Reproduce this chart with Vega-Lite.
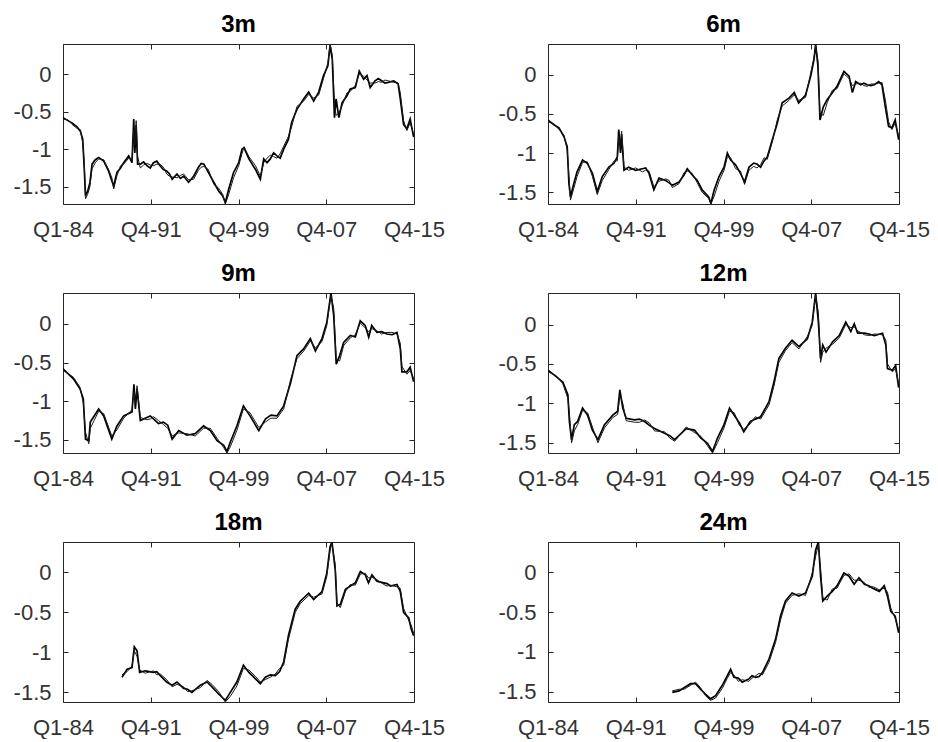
{
  "$schema": "https://vega.github.io/schema/vega-lite/v6.json",
  "padding": {"left": 12, "top": 12, "right": 2, "bottom": 0},
  "background": "white",
  "datasets": {
    "d": [
      {"p":"3m","t":1983.75,"a":-0.58,"b":-0.60},{"p":"3m","t":1984.2,"a":-0.62,"b":-0.61},{"p":"3m","t":1984.57,"a":-0.65,"b":-0.67},{"p":"3m","t":1985.0,"a":-0.70,"b":-0.72},{"p":"3m","t":1985.33,"a":-0.76,"b":-0.74},{"p":"3m","t":1985.55,"a":-0.87,"b":-0.92},{"p":"3m","t":1985.7,"a":-1.30,"b":-1.20},{"p":"3m","t":1985.8,"a":-1.62,"b":-1.66},{"p":"3m","t":1986.0,"a":-1.56,"b":-1.60},{"p":"3m","t":1986.2,"a":-1.45,"b":-1.50},{"p":"3m","t":1986.4,"a":-1.20,"b":-1.26},{"p":"3m","t":1986.7,"a":-1.14,"b":-1.18},{"p":"3m","t":1987.0,"a":-1.11,"b":-1.13},{"p":"3m","t":1987.46,"a":-1.16,"b":-1.14},{"p":"3m","t":1987.9,"a":-1.29,"b":-1.27},{"p":"3m","t":1988.2,"a":-1.42,"b":-1.38},{"p":"3m","t":1988.37,"a":-1.49,"b":-1.53},{"p":"3m","t":1988.67,"a":-1.31,"b":-1.35},{"p":"3m","t":1989.0,"a":-1.25,"b":-1.22},{"p":"3m","t":1989.28,"a":-1.18,"b":-1.20},{"p":"3m","t":1989.74,"a":-1.09,"b":-1.12},{"p":"3m","t":1990.04,"a":-1.18,"b":-1.14},{"p":"3m","t":1990.2,"a":-0.60,"b":-0.75},{"p":"3m","t":1990.3,"a":-1.05,"b":-0.95},{"p":"3m","t":1990.42,"a":-0.68,"b":-0.62},{"p":"3m","t":1990.55,"a":-1.20,"b":-1.10},{"p":"3m","t":1990.8,"a":-1.20,"b":-1.25},{"p":"3m","t":1991.1,"a":-1.17,"b":-1.21},{"p":"3m","t":1991.4,"a":-1.22,"b":-1.19},{"p":"3m","t":1992.0,"a":-1.18,"b":-1.22},{"p":"3m","t":1992.6,"a":-1.22,"b":-1.20},{"p":"3m","t":1993.2,"a":-1.29,"b":-1.33},{"p":"3m","t":1993.7,"a":-1.40,"b":-1.37},{"p":"3m","t":1994.14,"a":-1.33,"b":-1.38},{"p":"3m","t":1994.75,"a":-1.36,"b":-1.33},{"p":"3m","t":1995.2,"a":-1.44,"b":-1.41},{"p":"3m","t":1995.66,"a":-1.36,"b":-1.40},{"p":"3m","t":1996.1,"a":-1.24,"b":-1.28},{"p":"3m","t":1996.6,"a":-1.20,"b":-1.23},{"p":"3m","t":1997.0,"a":-1.31,"b":-1.27},{"p":"3m","t":1997.5,"a":-1.44,"b":-1.47},{"p":"3m","t":1997.95,"a":-1.56,"b":-1.52},{"p":"3m","t":1998.3,"a":-1.62,"b":-1.60},{"p":"3m","t":1998.55,"a":-1.71,"b":-1.73},{"p":"3m","t":1998.86,"a":-1.53,"b":-1.60},{"p":"3m","t":1999.3,"a":-1.31,"b":-1.38},{"p":"3m","t":1999.77,"a":-1.18,"b":-1.22},{"p":"3m","t":2000.07,"a":-1.00,"b":-1.06},{"p":"3m","t":2000.25,"a":-0.98,"b":-0.97},{"p":"3m","t":2000.7,"a":-1.13,"b":-1.10},{"p":"3m","t":2001.3,"a":-1.27,"b":-1.22},{"p":"3m","t":2001.74,"a":-1.40,"b":-1.36},{"p":"3m","t":2002.05,"a":-1.13,"b":-1.18},{"p":"3m","t":2002.65,"a":-1.13,"b":-1.08},{"p":"3m","t":2003.26,"a":-1.09,"b":-1.12},{"p":"3m","t":2003.87,"a":-1.00,"b":-0.96},{"p":"3m","t":2004.3,"a":-0.87,"b":-0.83},{"p":"3m","t":2004.6,"a":-0.64,"b":-0.70},{"p":"3m","t":2005.08,"a":-0.47,"b":-0.43},{"p":"3m","t":2005.7,"a":-0.33,"b":-0.36},{"p":"3m","t":2006.15,"a":-0.24,"b":-0.27},{"p":"3m","t":2006.6,"a":-0.36,"b":-0.32},{"p":"3m","t":2007.06,"a":-0.24,"b":-0.28},{"p":"3m","t":2007.5,"a":-0.02,"b":-0.06},{"p":"3m","t":2007.9,"a":0.11,"b":0.15},{"p":"3m","t":2008.1,"a":0.38,"b":0.40},{"p":"3m","t":2008.3,"a":0.20,"b":0.25},{"p":"3m","t":2008.5,"a":-0.58,"b":-0.40},{"p":"3m","t":2008.65,"a":-0.33,"b":-0.55},{"p":"3m","t":2008.9,"a":-0.58,"b":-0.52},{"p":"3m","t":2009.2,"a":-0.38,"b":-0.42},{"p":"3m","t":2009.64,"a":-0.29,"b":-0.25},{"p":"3m","t":2009.94,"a":-0.20,"b":-0.23},{"p":"3m","t":2010.4,"a":-0.18,"b":-0.15},{"p":"3m","t":2010.76,"a":0.04,"b":0.00},{"p":"3m","t":2011.16,"a":-0.07,"b":-0.03},{"p":"3m","t":2011.46,"a":-0.02,"b":-0.08},{"p":"3m","t":2011.76,"a":-0.18,"b":-0.12},{"p":"3m","t":2012.2,"a":-0.09,"b":-0.12},{"p":"3m","t":2012.8,"a":-0.09,"b":-0.11},{"p":"3m","t":2013.4,"a":-0.11,"b":-0.09},{"p":"3m","t":2013.9,"a":-0.09,"b":-0.11},{"p":"3m","t":2014.3,"a":-0.13,"b":-0.12},{"p":"3m","t":2014.5,"a":-0.33,"b":-0.25},{"p":"3m","t":2014.8,"a":-0.67,"b":-0.62},{"p":"3m","t":2015.1,"a":-0.73,"b":-0.75},{"p":"3m","t":2015.4,"a":-0.60,"b":-0.65},{"p":"3m","t":2015.72,"a":-0.84,"b":-0.80},
      {"p":"3m","t":1991.7,"a":-1.25,"b":-1.21},{"p":"3m","t":1992.3,"a":-1.16,"b":-1.20},{"p":"3m","t":1992.9,"a":-1.27,"b":-1.24},{"p":"3m","t":1993.45,"a":-1.33,"b":-1.36},{"p":"3m","t":2002.35,"a":-1.18,"b":-1.12},{"p":"3m","t":2002.95,"a":-1.05,"b":-1.10},{"p":"3m","t":2003.55,"a":-1.12,"b":-1.06},{"p":"3m","t":2012.5,"a":-0.06,"b":-0.10},{"p":"3m","t":2013.1,"a":-0.12,"b":-0.08},{"p":"3m","t":1994.45,"a":-1.39,"b":-1.35},{"p":"3m","t":1996.35,"a":-1.19,"b":-1.24},

      {"p":"6m","t":1983.75,"a":-0.58,"b":-0.60},{"p":"6m","t":1984.3,"a":-0.64,"b":-0.63},{"p":"6m","t":1984.75,"a":-0.68,"b":-0.70},{"p":"6m","t":1985.2,"a":-0.79,"b":-0.77},{"p":"6m","t":1985.5,"a":-0.92,"b":-0.96},{"p":"6m","t":1985.66,"a":-1.39,"b":-1.30},{"p":"6m","t":1985.8,"a":-1.56,"b":-1.60},{"p":"6m","t":1986.1,"a":-1.39,"b":-1.45},{"p":"6m","t":1986.4,"a":-1.24,"b":-1.30},{"p":"6m","t":1986.9,"a":-1.09,"b":-1.12},{"p":"6m","t":1987.33,"a":-1.13,"b":-1.11},{"p":"6m","t":1987.8,"a":-1.26,"b":-1.30},{"p":"6m","t":1988.24,"a":-1.49,"b":-1.53},{"p":"6m","t":1988.7,"a":-1.30,"b":-1.35},{"p":"6m","t":1989.3,"a":-1.18,"b":-1.21},{"p":"6m","t":1989.77,"a":-1.13,"b":-1.10},{"p":"6m","t":1990.07,"a":-1.05,"b":-1.10},{"p":"6m","t":1990.2,"a":-0.70,"b":-0.78},{"p":"6m","t":1990.36,"a":-1.00,"b":-0.92},{"p":"6m","t":1990.46,"a":-0.76,"b":-0.72},{"p":"6m","t":1990.68,"a":-1.22,"b":-1.18},{"p":"6m","t":1991.1,"a":-1.18,"b":-1.22},{"p":"6m","t":1991.74,"a":-1.22,"b":-1.19},{"p":"6m","t":1992.35,"a":-1.20,"b":-1.24},{"p":"6m","t":1992.96,"a":-1.26,"b":-1.23},{"p":"6m","t":1993.4,"a":-1.47,"b":-1.43},{"p":"6m","t":1993.87,"a":-1.32,"b":-1.36},{"p":"6m","t":1994.47,"a":-1.35,"b":-1.33},{"p":"6m","t":1995.08,"a":-1.41,"b":-1.44},{"p":"6m","t":1995.7,"a":-1.37,"b":-1.39},{"p":"6m","t":1996.15,"a":-1.28,"b":-1.25},{"p":"6m","t":1996.45,"a":-1.20,"b":-1.23},{"p":"6m","t":1996.9,"a":-1.28,"b":-1.26},{"p":"6m","t":1997.36,"a":-1.35,"b":-1.38},{"p":"6m","t":1997.8,"a":-1.47,"b":-1.50},{"p":"6m","t":1998.4,"a":-1.56,"b":-1.58},{"p":"6m","t":1998.6,"a":-1.64,"b":-1.65},{"p":"6m","t":1998.9,"a":-1.47,"b":-1.55},{"p":"6m","t":1999.34,"a":-1.30,"b":-1.36},{"p":"6m","t":1999.8,"a":-1.18,"b":-1.22},{"p":"6m","t":2000.1,"a":-1.00,"b":-1.05},{"p":"6m","t":2000.4,"a":-1.09,"b":-1.06},{"p":"6m","t":2000.85,"a":-1.15,"b":-1.20},{"p":"6m","t":2001.3,"a":-1.26,"b":-1.23},{"p":"6m","t":2001.67,"a":-1.37,"b":-1.40},{"p":"6m","t":2002.07,"a":-1.18,"b":-1.22},{"p":"6m","t":2002.5,"a":-1.13,"b":-1.17},{"p":"6m","t":2003.13,"a":-1.18,"b":-1.15},{"p":"6m","t":2003.74,"a":-1.05,"b":-1.08},{"p":"6m","t":2004.2,"a":-0.83,"b":-0.86},{"p":"6m","t":2004.65,"a":-0.62,"b":-0.58},{"p":"6m","t":2005.1,"a":-0.36,"b":-0.40},{"p":"6m","t":2005.72,"a":-0.30,"b":-0.33},{"p":"6m","t":2006.2,"a":-0.23,"b":-0.26},{"p":"6m","t":2006.6,"a":-0.36,"b":-0.33},{"p":"6m","t":2007.23,"a":-0.26,"b":-0.29},{"p":"6m","t":2007.7,"a":-0.02,"b":0.02},{"p":"6m","t":2008.0,"a":0.19,"b":0.22},{"p":"6m","t":2008.15,"a":0.39,"b":0.36},{"p":"6m","t":2008.36,"a":0.11,"b":0.18},{"p":"6m","t":2008.55,"a":-0.58,"b":-0.50},{"p":"6m","t":2008.85,"a":-0.41,"b":-0.52},{"p":"6m","t":2009.2,"a":-0.32,"b":-0.36},{"p":"6m","t":2009.67,"a":-0.23,"b":-0.20},{"p":"6m","t":2010.1,"a":-0.15,"b":-0.18},{"p":"6m","t":2010.73,"a":0.04,"b":0.01},{"p":"6m","t":2011.2,"a":-0.02,"b":-0.05},{"p":"6m","t":2011.5,"a":-0.23,"b":-0.14},{"p":"6m","t":2011.8,"a":-0.09,"b":-0.12},{"p":"6m","t":2012.25,"a":-0.13,"b":-0.11},{"p":"6m","t":2012.86,"a":-0.13,"b":-0.15},{"p":"6m","t":2013.5,"a":-0.13,"b":-0.12},{"p":"6m","t":2013.9,"a":-0.09,"b":-0.11},{"p":"6m","t":2014.2,"a":-0.13,"b":-0.10},{"p":"6m","t":2014.5,"a":-0.41,"b":-0.32},{"p":"6m","t":2014.8,"a":-0.66,"b":-0.60},{"p":"6m","t":2015.1,"a":-0.68,"b":-0.70},{"p":"6m","t":2015.4,"a":-0.58,"b":-0.62},{"p":"6m","t":2015.72,"a":-0.83,"b":-0.78},
      {"p":"6m","t":1992.65,"a":-1.19,"b":-1.22},{"p":"6m","t":1994.8,"a":-1.38,"b":-1.35},{"p":"6m","t":2002.8,"a":-1.14,"b":-1.19},{"p":"6m","t":2003.45,"a":-1.10,"b":-1.06},{"p":"6m","t":2012.55,"a":-0.11,"b":-0.14},{"p":"6m","t":2013.2,"a":-0.14,"b":-0.12},

      {"p":"9m","t":1983.75,"a":-0.58,"b":-0.60},{"p":"9m","t":1984.7,"a":-0.71,"b":-0.69},{"p":"9m","t":1985.3,"a":-0.84,"b":-0.82},{"p":"9m","t":1985.6,"a":-0.97,"b":-1.02},{"p":"9m","t":1985.8,"a":-1.49,"b":-1.40},{"p":"9m","t":1986.1,"a":-1.51,"b":-1.55},{"p":"9m","t":1986.24,"a":-1.27,"b":-1.35},{"p":"9m","t":1987.0,"a":-1.10,"b":-1.13},{"p":"9m","t":1987.46,"a":-1.19,"b":-1.16},{"p":"9m","t":1988.2,"a":-1.49,"b":-1.45},{"p":"9m","t":1988.67,"a":-1.32,"b":-1.37},{"p":"9m","t":1989.28,"a":-1.19,"b":-1.22},{"p":"9m","t":1990.04,"a":-1.14,"b":-1.11},{"p":"9m","t":1990.22,"a":-0.78,"b":-0.88},{"p":"9m","t":1990.35,"a":-1.10,"b":-1.02},{"p":"9m","t":1990.5,"a":-0.84,"b":-0.80},{"p":"9m","t":1990.8,"a":-1.25,"b":-1.21},{"p":"9m","t":1991.4,"a":-1.21,"b":-1.24},{"p":"9m","t":1992.0,"a":-1.23,"b":-1.20},{"p":"9m","t":1992.9,"a":-1.27,"b":-1.30},{"p":"9m","t":1993.7,"a":-1.49,"b":-1.45},{"p":"9m","t":1994.3,"a":-1.38,"b":-1.41},{"p":"9m","t":1995.05,"a":-1.44,"b":-1.42},{"p":"9m","t":1995.8,"a":-1.42,"b":-1.45},{"p":"9m","t":1996.57,"a":-1.32,"b":-1.35},{"p":"9m","t":1997.18,"a":-1.38,"b":-1.35},{"p":"9m","t":1997.8,"a":-1.51,"b":-1.48},{"p":"9m","t":1998.4,"a":-1.57,"b":-1.60},{"p":"9m","t":1998.7,"a":-1.65,"b":-1.67},{"p":"9m","t":1999.0,"a":-1.53,"b":-1.59},{"p":"9m","t":1999.6,"a":-1.32,"b":-1.38},{"p":"9m","t":2000.2,"a":-1.06,"b":-1.10},{"p":"9m","t":2000.8,"a":-1.19,"b":-1.15},{"p":"9m","t":2001.6,"a":-1.38,"b":-1.34},{"p":"9m","t":2002.2,"a":-1.23,"b":-1.27},{"p":"9m","t":2003.26,"a":-1.19,"b":-1.22},{"p":"9m","t":2003.87,"a":-1.06,"b":-1.10},{"p":"9m","t":2004.5,"a":-0.76,"b":-0.72},{"p":"9m","t":2005.08,"a":-0.41,"b":-0.45},{"p":"9m","t":2005.7,"a":-0.32,"b":-0.35},{"p":"9m","t":2006.3,"a":-0.19,"b":-0.22},{"p":"9m","t":2006.76,"a":-0.35,"b":-0.31},{"p":"9m","t":2007.36,"a":-0.19,"b":-0.23},{"p":"9m","t":2007.8,"a":0.02,"b":-0.02},{"p":"9m","t":2008.18,"a":0.40,"b":0.37},{"p":"9m","t":2008.43,"a":0.11,"b":0.20},{"p":"9m","t":2008.66,"a":-0.52,"b":-0.45},{"p":"9m","t":2008.97,"a":-0.41,"b":-0.48},{"p":"9m","t":2009.34,"a":-0.24,"b":-0.28},{"p":"9m","t":2009.94,"a":-0.15,"b":-0.18},{"p":"9m","t":2010.4,"a":-0.17,"b":-0.14},{"p":"9m","t":2010.85,"a":0.04,"b":0.01},{"p":"9m","t":2011.3,"a":-0.02,"b":-0.05},{"p":"9m","t":2011.62,"a":-0.17,"b":-0.10},{"p":"9m","t":2011.9,"a":-0.02,"b":-0.06},{"p":"9m","t":2012.37,"a":-0.11,"b":-0.09},{"p":"9m","t":2013.28,"a":-0.13,"b":-0.11},{"p":"9m","t":2014.2,"a":-0.11,"b":-0.13},{"p":"9m","t":2014.5,"a":-0.32,"b":-0.25},{"p":"9m","t":2014.65,"a":-0.62,"b":-0.55},{"p":"9m","t":2015.1,"a":-0.62,"b":-0.65},{"p":"9m","t":2015.4,"a":-0.56,"b":-0.60},{"p":"9m","t":2015.72,"a":-0.75,"b":-0.71},
      {"p":"9m","t":1991.7,"a":-1.19,"b":-1.23},{"p":"9m","t":1992.45,"a":-1.29,"b":-1.25},{"p":"9m","t":1993.3,"a":-1.31,"b":-1.35},{"p":"9m","t":2002.7,"a":-1.18,"b":-1.22},{"p":"9m","t":2012.8,"a":-0.10,"b":-0.13},{"p":"9m","t":2013.75,"a":-0.14,"b":-0.11},

      {"p":"12m","t":1983.75,"a":-0.58,"b":-0.60},{"p":"12m","t":1984.5,"a":-0.66,"b":-0.65},{"p":"12m","t":1985.1,"a":-0.73,"b":-0.75},{"p":"12m","t":1985.56,"a":-0.89,"b":-0.94},{"p":"12m","t":1985.7,"a":-1.23,"b":-1.12},{"p":"12m","t":1985.9,"a":-1.46,"b":-1.50},{"p":"12m","t":1986.15,"a":-1.27,"b":-1.35},{"p":"12m","t":1986.45,"a":-1.23,"b":-1.27},{"p":"12m","t":1986.9,"a":-1.06,"b":-1.09},{"p":"12m","t":1987.36,"a":-1.15,"b":-1.12},{"p":"12m","t":1987.8,"a":-1.34,"b":-1.30},{"p":"12m","t":1988.3,"a":-1.46,"b":-1.50},{"p":"12m","t":1988.9,"a":-1.27,"b":-1.31},{"p":"12m","t":1989.66,"a":-1.15,"b":-1.18},{"p":"12m","t":1990.1,"a":-1.10,"b":-1.14},{"p":"12m","t":1990.3,"a":-0.83,"b":-0.90},{"p":"12m","t":1990.57,"a":-1.06,"b":-1.00},{"p":"12m","t":1990.87,"a":-1.19,"b":-1.22},{"p":"12m","t":1991.64,"a":-1.21,"b":-1.24},{"p":"12m","t":1992.55,"a":-1.23,"b":-1.21},{"p":"12m","t":1993.46,"a":-1.32,"b":-1.35},{"p":"12m","t":1994.37,"a":-1.38,"b":-1.36},{"p":"12m","t":1995.3,"a":-1.46,"b":-1.48},{"p":"12m","t":1996.35,"a":-1.32,"b":-1.30},{"p":"12m","t":1997.1,"a":-1.34,"b":-1.37},{"p":"12m","t":1997.7,"a":-1.44,"b":-1.42},{"p":"12m","t":1998.3,"a":-1.51,"b":-1.54},{"p":"12m","t":1998.75,"a":-1.61,"b":-1.63},{"p":"12m","t":1999.2,"a":-1.44,"b":-1.50},{"p":"12m","t":1999.8,"a":-1.27,"b":-1.31},{"p":"12m","t":2000.3,"a":-1.06,"b":-1.10},{"p":"12m","t":2000.73,"a":-1.15,"b":-1.12},{"p":"12m","t":2001.2,"a":-1.25,"b":-1.28},{"p":"12m","t":2001.6,"a":-1.36,"b":-1.33},{"p":"12m","t":2002.2,"a":-1.23,"b":-1.26},{"p":"12m","t":2003.13,"a":-1.17,"b":-1.20},{"p":"12m","t":2003.9,"a":-0.98,"b":-1.02},{"p":"12m","t":2004.35,"a":-0.73,"b":-0.78},{"p":"12m","t":2004.8,"a":-0.43,"b":-0.48},{"p":"12m","t":2005.4,"a":-0.30,"b":-0.33},{"p":"12m","t":2006.0,"a":-0.20,"b":-0.23},{"p":"12m","t":2006.63,"a":-0.28,"b":-0.31},{"p":"12m","t":2007.4,"a":-0.18,"b":-0.15},{"p":"12m","t":2007.84,"a":0.03,"b":-0.01},{"p":"12m","t":2008.15,"a":0.40,"b":0.37},{"p":"12m","t":2008.4,"a":0.03,"b":0.15},{"p":"12m","t":2008.6,"a":-0.43,"b":-0.48},{"p":"12m","t":2008.8,"a":-0.26,"b":-0.35},{"p":"12m","t":2009.1,"a":-0.35,"b":-0.30},{"p":"12m","t":2009.7,"a":-0.22,"b":-0.25},{"p":"12m","t":2010.3,"a":-0.14,"b":-0.17},{"p":"12m","t":2010.9,"a":0.03,"b":0.00},{"p":"12m","t":2011.36,"a":-0.09,"b":-0.04},{"p":"12m","t":2011.67,"a":0.01,"b":-0.03},{"p":"12m","t":2011.98,"a":-0.11,"b":-0.08},{"p":"12m","t":2012.6,"a":-0.11,"b":-0.13},{"p":"12m","t":2013.5,"a":-0.14,"b":-0.12},{"p":"12m","t":2014.25,"a":-0.11,"b":-0.13},{"p":"12m","t":2014.55,"a":-0.26,"b":-0.20},{"p":"12m","t":2014.7,"a":-0.56,"b":-0.50},{"p":"12m","t":2015.14,"a":-0.58,"b":-0.60},{"p":"12m","t":2015.44,"a":-0.52,"b":-0.56},{"p":"12m","t":2015.72,"a":-0.80,"b":-0.76},
      {"p":"12m","t":1992.1,"a":-1.20,"b":-1.24},{"p":"12m","t":1993.0,"a":-1.28,"b":-1.25},{"p":"12m","t":1994.85,"a":-1.41,"b":-1.44},{"p":"12m","t":2002.65,"a":-1.20,"b":-1.17},{"p":"12m","t":2013.0,"a":-0.12,"b":-0.14},

      {"p":"18m","t":1989.13,"a":-1.31,"b":-1.28},{"p":"18m","t":1989.6,"a":-1.21,"b":-1.24},{"p":"18m","t":1990.04,"a":-1.19,"b":-1.17},{"p":"18m","t":1990.25,"a":-0.93,"b":-0.98},{"p":"18m","t":1990.5,"a":-0.98,"b":-1.05},{"p":"18m","t":1990.74,"a":-1.25,"b":-1.22},{"p":"18m","t":1991.25,"a":-1.23,"b":-1.26},{"p":"18m","t":1992.0,"a":-1.25,"b":-1.23},{"p":"18m","t":1992.62,"a":-1.29,"b":-1.27},{"p":"18m","t":1993.2,"a":-1.37,"b":-1.34},{"p":"18m","t":1993.7,"a":-1.41,"b":-1.43},{"p":"18m","t":1994.14,"a":-1.37,"b":-1.40},{"p":"18m","t":1994.75,"a":-1.45,"b":-1.43},{"p":"18m","t":1995.5,"a":-1.50,"b":-1.48},{"p":"18m","t":1996.27,"a":-1.41,"b":-1.44},{"p":"18m","t":1996.88,"a":-1.37,"b":-1.35},{"p":"18m","t":1997.33,"a":-1.43,"b":-1.40},{"p":"18m","t":1997.94,"a":-1.52,"b":-1.49},{"p":"18m","t":1998.55,"a":-1.60,"b":-1.62},{"p":"18m","t":1999.0,"a":-1.50,"b":-1.55},{"p":"18m","t":1999.6,"a":-1.37,"b":-1.42},{"p":"18m","t":2000.2,"a":-1.16,"b":-1.20},{"p":"18m","t":2000.7,"a":-1.25,"b":-1.22},{"p":"18m","t":2001.3,"a":-1.33,"b":-1.30},{"p":"18m","t":2001.74,"a":-1.39,"b":-1.37},{"p":"18m","t":2002.2,"a":-1.31,"b":-1.34},{"p":"18m","t":2003.1,"a":-1.29,"b":-1.27},{"p":"18m","t":2003.87,"a":-1.12,"b":-1.16},{"p":"18m","t":2004.3,"a":-0.79,"b":-0.84},{"p":"18m","t":2004.92,"a":-0.46,"b":-0.50},{"p":"18m","t":2005.38,"a":-0.36,"b":-0.39},{"p":"18m","t":2006.15,"a":-0.26,"b":-0.29},{"p":"18m","t":2006.6,"a":-0.34,"b":-0.31},{"p":"18m","t":2007.36,"a":-0.24,"b":-0.27},{"p":"18m","t":2007.8,"a":-0.01,"b":-0.05},{"p":"18m","t":2008.1,"a":0.32,"b":0.28},{"p":"18m","t":2008.27,"a":0.38,"b":0.36},{"p":"18m","t":2008.57,"a":0.03,"b":0.10},{"p":"18m","t":2008.73,"a":-0.42,"b":-0.38},{"p":"18m","t":2009.03,"a":-0.40,"b":-0.44},{"p":"18m","t":2009.5,"a":-0.21,"b":-0.24},{"p":"18m","t":2009.95,"a":-0.17,"b":-0.15},{"p":"18m","t":2010.4,"a":-0.13,"b":-0.16},{"p":"18m","t":2010.86,"a":0.01,"b":-0.02},{"p":"18m","t":2011.3,"a":-0.03,"b":-0.01},{"p":"18m","t":2011.6,"a":-0.13,"b":-0.07},{"p":"18m","t":2011.92,"a":-0.03,"b":-0.06},{"p":"18m","t":2012.37,"a":-0.11,"b":-0.09},{"p":"18m","t":2012.98,"a":-0.13,"b":-0.15},{"p":"18m","t":2013.6,"a":-0.17,"b":-0.16},{"p":"18m","t":2014.2,"a":-0.15,"b":-0.18},{"p":"18m","t":2014.5,"a":-0.24,"b":-0.20},{"p":"18m","t":2014.8,"a":-0.50,"b":-0.45},{"p":"18m","t":2015.27,"a":-0.57,"b":-0.60},{"p":"18m","t":2015.5,"a":-0.71,"b":-0.66},{"p":"18m","t":2015.72,"a":-0.79,"b":-0.76},
      {"p":"18m","t":1992.3,"a":-1.24,"b":-1.28},{"p":"18m","t":1995.1,"a":-1.46,"b":-1.49},{"p":"18m","t":2002.65,"a":-1.28,"b":-1.31},{"p":"18m","t":2003.5,"a":-1.24,"b":-1.20},{"p":"18m","t":2013.3,"a":-0.14,"b":-0.17},

      {"p":"24m","t":1995.08,"a":-1.51,"b":-1.49},{"p":"24m","t":1995.7,"a":-1.49,"b":-1.47},{"p":"24m","t":1996.15,"a":-1.45,"b":-1.47},{"p":"24m","t":1996.75,"a":-1.40,"b":-1.42},{"p":"24m","t":1997.2,"a":-1.40,"b":-1.38},{"p":"24m","t":1997.66,"a":-1.47,"b":-1.45},{"p":"24m","t":1998.1,"a":-1.53,"b":-1.55},{"p":"24m","t":1998.57,"a":-1.59,"b":-1.61},{"p":"24m","t":1999.03,"a":-1.55,"b":-1.58},{"p":"24m","t":1999.64,"a":-1.42,"b":-1.46},{"p":"24m","t":2000.1,"a":-1.30,"b":-1.33},{"p":"24m","t":2000.4,"a":-1.22,"b":-1.26},{"p":"24m","t":2000.7,"a":-1.32,"b":-1.29},{"p":"24m","t":2001.46,"a":-1.38,"b":-1.35},{"p":"24m","t":2002.07,"a":-1.34,"b":-1.37},{"p":"24m","t":2002.68,"a":-1.32,"b":-1.30},{"p":"24m","t":2003.3,"a":-1.26,"b":-1.29},{"p":"24m","t":2003.9,"a":-1.09,"b":-1.13},{"p":"24m","t":2004.5,"a":-0.84,"b":-0.88},{"p":"24m","t":2004.95,"a":-0.55,"b":-0.60},{"p":"24m","t":2005.4,"a":-0.36,"b":-0.39},{"p":"24m","t":2006.0,"a":-0.26,"b":-0.29},{"p":"24m","t":2006.63,"a":-0.30,"b":-0.27},{"p":"24m","t":2007.23,"a":-0.26,"b":-0.29},{"p":"24m","t":2007.84,"a":-0.05,"b":-0.01},{"p":"24m","t":2008.15,"a":0.28,"b":0.20},{"p":"24m","t":2008.4,"a":0.38,"b":0.35},{"p":"24m","t":2008.6,"a":-0.05,"b":0.05},{"p":"24m","t":2008.8,"a":-0.36,"b":-0.32},{"p":"24m","t":2009.2,"a":-0.30,"b":-0.35},{"p":"24m","t":2009.67,"a":-0.24,"b":-0.21},{"p":"24m","t":2010.1,"a":-0.17,"b":-0.20},{"p":"24m","t":2010.73,"a":-0.01,"b":-0.04},{"p":"24m","t":2011.2,"a":-0.05,"b":-0.02},{"p":"24m","t":2011.66,"a":-0.15,"b":-0.10},{"p":"24m","t":2012.1,"a":-0.07,"b":-0.10},{"p":"24m","t":2012.6,"a":-0.15,"b":-0.13},{"p":"24m","t":2013.35,"a":-0.20,"b":-0.18},{"p":"24m","t":2013.96,"a":-0.24,"b":-0.22},{"p":"24m","t":2014.4,"a":-0.17,"b":-0.20},{"p":"24m","t":2014.7,"a":-0.30,"b":-0.25},{"p":"24m","t":2015.0,"a":-0.49,"b":-0.45},{"p":"24m","t":2015.4,"a":-0.55,"b":-0.58},{"p":"24m","t":2015.72,"a":-0.76,"b":-0.72},
      {"p":"24m","t":2001.1,"a":-1.33,"b":-1.37},{"p":"24m","t":2002.35,"a":-1.30,"b":-1.33},{"p":"24m","t":2003.0,"a":-1.31,"b":-1.27},{"p":"24m","t":2013.0,"a":-0.17,"b":-0.19}
    ]
  },
  "data": {"name": "d"},
  "columns": 2,
  "spacing": {"row": 20, "column": 51},
  "concat": [
    {"title": "3m", "width": 351, "height": 160, "transform": [{"filter": "datum.p == '3m'"}],
     "layer": [
       {"mark": {"type": "line", "color": "#000000", "strokeWidth": 1.7, "clip": true},
        "encoding": {"x": {"field": "t", "type": "quantitative", "scale": {"domain": [1983.75, 2015.75], "nice": false, "zero": false}, "axis": {"orient": "bottom", "title": null, "values": [1983.75, 1991.75, 1999.75, 2007.75, 2015.75], "labelExpr": "datum.value < 1987 ? 'Q1-84' : datum.value < 1995 ? 'Q4-91' : datum.value < 2003 ? 'Q4-99' : datum.value < 2011 ? 'Q4-07' : 'Q4-15'", "labelPadding": 20}},
                     "y": {"field": "a", "type": "quantitative", "scale": {"domain": [-1.73, 0.40], "nice": false, "zero": false}, "axis": {"orient": "left", "title": null, "values": [-1.5, -1, -0.5, 0], "labelExpr": "toString(datum.value)", "labelPadding": 17}}}},
       {"mark": {"type": "line", "color": "#1a1a1a", "strokeWidth": 1.0, "clip": true},
        "encoding": {"x": {"field": "t", "type": "quantitative", "axis": {"orient": "top", "title": null, "labels": false, "values": [1983.75, 1991.75, 1999.75, 2007.75, 2015.75]}},
                     "y": {"field": "b", "type": "quantitative", "axis": {"orient": "right", "title": null, "labels": false, "values": [-1.5, -1, -0.5, 0]}}}}
     ],
     "resolve": {"axis": {"x": "independent", "y": "independent"}}},
    {"title": "6m", "width": 351, "height": 160, "transform": [{"filter": "datum.p == '6m'"}],
     "layer": [
       {"mark": {"type": "line", "color": "#000000", "strokeWidth": 1.7, "clip": true},
        "encoding": {"x": {"field": "t", "type": "quantitative", "scale": {"domain": [1983.75, 2015.75], "nice": false, "zero": false}, "axis": {"orient": "bottom", "title": null, "values": [1983.75, 1991.75, 1999.75, 2007.75, 2015.75], "labelExpr": "datum.value < 1987 ? 'Q1-84' : datum.value < 1995 ? 'Q4-91' : datum.value < 2003 ? 'Q4-99' : datum.value < 2011 ? 'Q4-07' : 'Q4-15'", "labelPadding": 20}},
                     "y": {"field": "a", "type": "quantitative", "scale": {"domain": [-1.65, 0.39], "nice": false, "zero": false}, "axis": {"orient": "left", "title": null, "values": [-1.5, -1, -0.5, 0], "labelExpr": "toString(datum.value)", "labelPadding": 17}}}},
       {"mark": {"type": "line", "color": "#1a1a1a", "strokeWidth": 1.0, "clip": true},
        "encoding": {"x": {"field": "t", "type": "quantitative", "axis": {"orient": "top", "title": null, "labels": false, "values": [1983.75, 1991.75, 1999.75, 2007.75, 2015.75]}},
                     "y": {"field": "b", "type": "quantitative", "axis": {"orient": "right", "title": null, "labels": false, "values": [-1.5, -1, -0.5, 0]}}}}
     ],
     "resolve": {"axis": {"x": "independent", "y": "independent"}}},
    {"title": "9m", "width": 351, "height": 160, "transform": [{"filter": "datum.p == '9m'"}],
     "layer": [
       {"mark": {"type": "line", "color": "#000000", "strokeWidth": 1.7, "clip": true},
        "encoding": {"x": {"field": "t", "type": "quantitative", "scale": {"domain": [1983.75, 2015.75], "nice": false, "zero": false}, "axis": {"orient": "bottom", "title": null, "values": [1983.75, 1991.75, 1999.75, 2007.75, 2015.75], "labelExpr": "datum.value < 1987 ? 'Q1-84' : datum.value < 1995 ? 'Q4-91' : datum.value < 2003 ? 'Q4-99' : datum.value < 2011 ? 'Q4-07' : 'Q4-15'", "labelPadding": 20}},
                     "y": {"field": "a", "type": "quantitative", "scale": {"domain": [-1.67, 0.40], "nice": false, "zero": false}, "axis": {"orient": "left", "title": null, "values": [-1.5, -1, -0.5, 0], "labelExpr": "toString(datum.value)", "labelPadding": 17}}}},
       {"mark": {"type": "line", "color": "#1a1a1a", "strokeWidth": 1.0, "clip": true},
        "encoding": {"x": {"field": "t", "type": "quantitative", "axis": {"orient": "top", "title": null, "labels": false, "values": [1983.75, 1991.75, 1999.75, 2007.75, 2015.75]}},
                     "y": {"field": "b", "type": "quantitative", "axis": {"orient": "right", "title": null, "labels": false, "values": [-1.5, -1, -0.5, 0]}}}}
     ],
     "resolve": {"axis": {"x": "independent", "y": "independent"}}},
    {"title": "12m", "width": 351, "height": 160, "transform": [{"filter": "datum.p == '12m'"}],
     "layer": [
       {"mark": {"type": "line", "color": "#000000", "strokeWidth": 1.7, "clip": true},
        "encoding": {"x": {"field": "t", "type": "quantitative", "scale": {"domain": [1983.75, 2015.75], "nice": false, "zero": false}, "axis": {"orient": "bottom", "title": null, "values": [1983.75, 1991.75, 1999.75, 2007.75, 2015.75], "labelExpr": "datum.value < 1987 ? 'Q1-84' : datum.value < 1995 ? 'Q4-91' : datum.value < 2003 ? 'Q4-99' : datum.value < 2011 ? 'Q4-07' : 'Q4-15'", "labelPadding": 20}},
                     "y": {"field": "a", "type": "quantitative", "scale": {"domain": [-1.63, 0.40], "nice": false, "zero": false}, "axis": {"orient": "left", "title": null, "values": [-1.5, -1, -0.5, 0], "labelExpr": "toString(datum.value)", "labelPadding": 17}}}},
       {"mark": {"type": "line", "color": "#1a1a1a", "strokeWidth": 1.0, "clip": true},
        "encoding": {"x": {"field": "t", "type": "quantitative", "axis": {"orient": "top", "title": null, "labels": false, "values": [1983.75, 1991.75, 1999.75, 2007.75, 2015.75]}},
                     "y": {"field": "b", "type": "quantitative", "axis": {"orient": "right", "title": null, "labels": false, "values": [-1.5, -1, -0.5, 0]}}}}
     ],
     "resolve": {"axis": {"x": "independent", "y": "independent"}}},
    {"title": "18m", "width": 351, "height": 160, "transform": [{"filter": "datum.p == '18m'"}],
     "layer": [
       {"mark": {"type": "line", "color": "#000000", "strokeWidth": 1.7, "clip": true},
        "encoding": {"x": {"field": "t", "type": "quantitative", "scale": {"domain": [1983.75, 2015.75], "nice": false, "zero": false}, "axis": {"orient": "bottom", "title": null, "values": [1983.75, 1991.75, 1999.75, 2007.75, 2015.75], "labelExpr": "datum.value < 1987 ? 'Q1-84' : datum.value < 1995 ? 'Q4-91' : datum.value < 2003 ? 'Q4-99' : datum.value < 2011 ? 'Q4-07' : 'Q4-15'", "labelPadding": 20}},
                     "y": {"field": "a", "type": "quantitative", "scale": {"domain": [-1.62, 0.38], "nice": false, "zero": false}, "axis": {"orient": "left", "title": null, "values": [-1.5, -1, -0.5, 0], "labelExpr": "toString(datum.value)", "labelPadding": 17}}}},
       {"mark": {"type": "line", "color": "#1a1a1a", "strokeWidth": 1.0, "clip": true},
        "encoding": {"x": {"field": "t", "type": "quantitative", "axis": {"orient": "top", "title": null, "labels": false, "values": [1983.75, 1991.75, 1999.75, 2007.75, 2015.75]}},
                     "y": {"field": "b", "type": "quantitative", "axis": {"orient": "right", "title": null, "labels": false, "values": [-1.5, -1, -0.5, 0]}}}}
     ],
     "resolve": {"axis": {"x": "independent", "y": "independent"}}},
    {"title": "24m", "width": 351, "height": 160, "transform": [{"filter": "datum.p == '24m'"}],
     "layer": [
       {"mark": {"type": "line", "color": "#000000", "strokeWidth": 1.7, "clip": true},
        "encoding": {"x": {"field": "t", "type": "quantitative", "scale": {"domain": [1983.75, 2015.75], "nice": false, "zero": false}, "axis": {"orient": "bottom", "title": null, "values": [1983.75, 1991.75, 1999.75, 2007.75, 2015.75], "labelExpr": "datum.value < 1987 ? 'Q1-84' : datum.value < 1995 ? 'Q4-91' : datum.value < 2003 ? 'Q4-99' : datum.value < 2011 ? 'Q4-07' : 'Q4-15'", "labelPadding": 20}},
                     "y": {"field": "a", "type": "quantitative", "scale": {"domain": [-1.63, 0.38], "nice": false, "zero": false}, "axis": {"orient": "left", "title": null, "values": [-1.5, -1, -0.5, 0], "labelExpr": "toString(datum.value)", "labelPadding": 17}}}},
       {"mark": {"type": "line", "color": "#1a1a1a", "strokeWidth": 1.0, "clip": true},
        "encoding": {"x": {"field": "t", "type": "quantitative", "axis": {"orient": "top", "title": null, "labels": false, "values": [1983.75, 1991.75, 1999.75, 2007.75, 2015.75]}},
                     "y": {"field": "b", "type": "quantitative", "axis": {"orient": "right", "title": null, "labels": false, "values": [-1.5, -1, -0.5, 0]}}}}
     ],
     "resolve": {"axis": {"x": "independent", "y": "independent"}}}
  ],
  "config": {
    "view": {"stroke": "#262626", "strokeWidth": 1},
    "axis": {"labelFont": "Liberation Sans", "labelFontSize": 22, "labelColor": "#333333", "tickColor": "#262626", "tickSize": -5, "domain": false, "grid": false, "labelFlush": false, "labelOverlap": false},
    "title": {"font": "Liberation Sans", "fontSize": 24, "fontWeight": "bold", "color": "#000000", "offset": 7, "anchor": "middle"}
  }
}
